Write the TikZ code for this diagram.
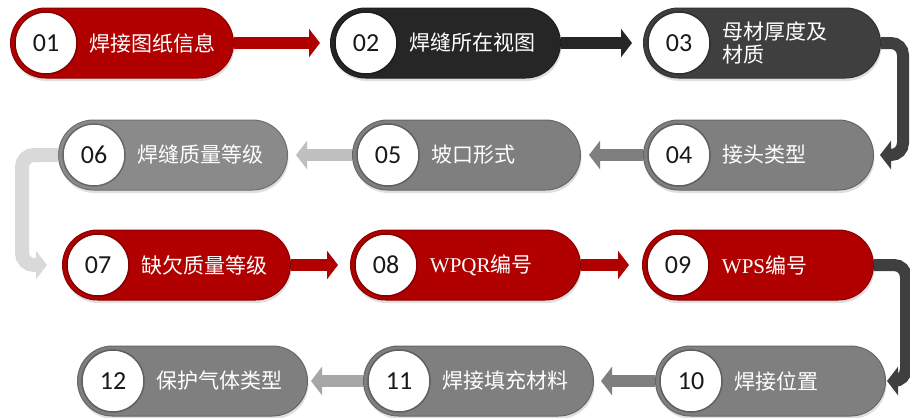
\documentclass[tikz,border=0pt]{standalone}
\usepackage{fontspec}
\newfontfamily\cjk{Noto Sans CJK SC}
\newfontfamily\numfont{Carlito}
\newfontfamily\latinserif{Liberation Serif}
\usetikzlibrary{arrows.meta,shadows}
\definecolor{pred}{HTML}{B00000}
\definecolor{pblack}{HTML}{262626}
\definecolor{pdark}{HTML}{3F3F3F}
\definecolor{pgray}{HTML}{7F7F7F}
\definecolor{pgrayb}{HTML}{8A8A8A}
\definecolor{alight}{HTML}{BFBFBF}
\definecolor{alighter}{HTML}{D9D9D9}
\definecolor{amid}{HTML}{A6A6A6}
\tikzset{
  pill/.style={rectangle, rounded corners=35bp, minimum height=70bp, inner sep=0pt,
    line width=1bp, drop shadow={opacity=0.25, shadow xshift=1bp, shadow yshift=-3bp}},
  numcirc/.style={circle, fill=white, minimum size=62bp, inner sep=0pt, line width=1.5bp,
    font=\numfont\fontsize{26bp}{28bp}\selectfont, text=black!90},
  pilltext/.style={text=white, inner sep=0pt, align=left,
    font=\cjk\fontsize{21bp}{23bp}\selectfont},
  conn/.style={line width=12bp, -{Triangle[length=11bp,width=28bp]}},
}
\newcommand\pillnode[7]{%
  \node[pill, fill=#5, draw=#5!80!black, minimum width={(#3-#2)*1bp}, anchor=west] (#1) at (#2,#4) {};
  \node[numcirc, draw=#5!75!black] (#1c) at ([xshift=36bp]#1.west) {#6};
  \node[pilltext, anchor=west] (#1t) at ([xshift=12bp]#1c.east) {#7};
}
\begin{document}
\begin{tikzpicture}[x=1bp,y=-1bp]
\useasboundingbox (0,0) rectangle (910,417);
\fill[white] (0,0) rectangle (910,417);
% pills
\pillnode{p1}{10}{233}{43}{pred}{01}{焊接图纸信息}
\pillnode{p2}{330}{560}{43}{pblack}{02}{焊缝所在视图}
\pillnode{p3}{643}{880}{43}{pdark}{03}{母材厚度及\\材质}
\pillnode{p4}{643}{873}{155}{pgray}{04}{接头类型}
\pillnode{p5}{352}{580}{155}{pgray}{05}{坡口形式}
\pillnode{p6}{58}{287}{155}{pgrayb}{06}{焊缝质量等级}
\pillnode{p7}{62}{290}{265}{pred}{07}{缺欠质量等级}
\pillnode{p8}{350}{580}{265}{pred}{08}{{\latinserif WPQR}编号}
\pillnode{p9}{642}{873}{265}{pred}{09}{{\latinserif WPS}编号}
\pillnode{p10}{655}{885}{381}{pgray}{10}{焊接位置}
\pillnode{p11}{363}{593}{381}{pgray}{11}{焊接填充材料}
\pillnode{p12}{77}{307}{381}{pgray}{12}{保护气体类型}
% connectors
\draw[conn, pred, shorten >=10bp] (p1.east) -- (p2.west);
\draw[conn, pblack, shorten >=11bp] (p2.east) -- (p3.west);
\draw[conn, pdark, rounded corners=12bp, shorten >=6bp] (p3.east) -- ++(22,0) |- (p4.east);
\draw[conn, pgray, shorten >=8bp] (p4.west) -- (p5.east);
\draw[conn, alight, shorten >=8bp] (p5.west) -- (p6.east);
\draw[conn, alighter, line width=14bp, rounded corners=12bp, shorten >=15bp] (p6.west) -- ++(-36,0) |- (p7.west);
\draw[conn, pred, shorten >=12bp] (p7.east) -- (p8.west);
\draw[conn, pred, shorten >=13bp] (p8.east) -- (p9.west);
\draw[conn, pdark, rounded corners=12bp, shorten >=1bp] (p9.east) -- ++(32,0) |- (p10.east);
\draw[conn, pgray, shorten >=7bp] (p10.west) -- (p11.east);
\draw[conn, amid, shorten >=3bp] (p11.west) -- (p12.east);
\end{tikzpicture}
\end{document}
